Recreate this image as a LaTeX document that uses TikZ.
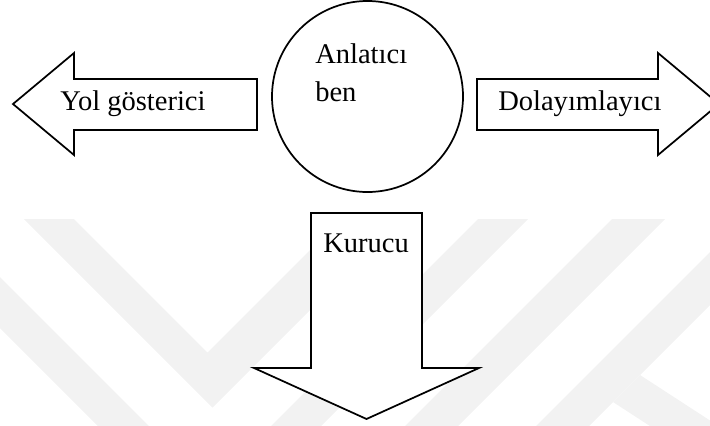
\documentclass[tikz,border=0pt]{standalone}
\usepackage{fontspec}
\setmainfont{Liberation Serif}
\begin{document}
\begin{tikzpicture}[x=0.75pt,y=-0.75pt,
  outline/.style={draw=black,line width=1.3pt,fill=white,line join=miter},
  band/.style={fill=black!5,draw=none},
  label text/.style={font=\fontsize{21.4}{25}\selectfont,inner sep=0pt,anchor=base west}]
\useasboundingbox (0,0) rectangle (710,425);
\clip (0,0) rectangle (710,425);

% faint emblem in the background
\begin{scope}
  \clip (0,219) rectangle (710,425);
  % inner chevron
  \fill[band] (24,219) -- (74,219) -- (207.5,352.5) -- (341,219) -- (401,219) -- (212.5,407.5) -- cycle;
  % outer chevron
  \fill[band] (-109,219) -- (-58,219) -- (210,487) -- (478,219) -- (528,219) -- (209.5,537.5) -- cycle;
  % diagonal bars on the right
  \fill[band] (612,219) -- (665,219) -- (400,484) -- (347,484) -- cycle;
  \fill[band] (743,219) -- (796,219) -- (540,475) -- (487,475) -- cycle;
  % short leg leaving the outer bar
  \fill[band] (613,402) -- (640,375) -- (740,440) -- (713,467) -- cycle;
\end{scope}

% left arrow
\draw[outline] (257,79) -- (74,79) -- (74,53) -- (13,104) -- (74,155) -- (74,130) -- (257,130) -- cycle;
% right arrow
\draw[outline] (477,79) -- (658,79) -- (658,53) -- (719,104) -- (658,155) -- (658,130) -- (477,130) -- cycle;
% downward arrow
\draw[outline] (311,213) -- (422,213) -- (422,368) -- (479,368) -- (366.5,419) -- (254,368) -- (311,368) -- cycle;
% central circle
\draw[outline] (367.5,96.5) circle[radius=95.5];

% labels
\node[label text] (anl) at (315,63) {Anlatıcı};
\node[label text] (ben) at (315,101) {ben};
\node[label text] (yol) at (60,110) {Yol gösterici};
\node[label text] (dol) at (498,110) {Dolayımlayıcı};
\node[label text] (kur) at (323,252) {Kurucu};
\end{tikzpicture}
\end{document}
